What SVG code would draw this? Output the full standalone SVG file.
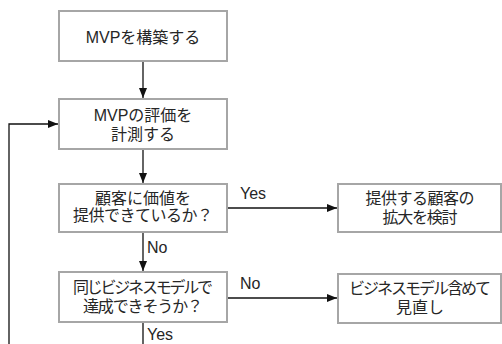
<svg xmlns="http://www.w3.org/2000/svg" width="502" height="344" viewBox="0 0 502 344">
<style>
.box{fill:#fff;stroke:#a6a6a6;stroke-width:2}
.t{font-family:"Liberation Sans","Noto Sans CJK JP",sans-serif;font-size:16px;fill:#262626;text-anchor:middle}
.l{font-family:"Liberation Sans","Noto Sans CJK JP",sans-serif;font-size:16px;fill:#262626}
.c{fill:none;stroke:#111;stroke-width:1.3}
</style>
<defs>
<marker id="ah" markerUnits="userSpaceOnUse" markerWidth="10" markerHeight="10" viewBox="0 0 10 10" refX="10" refY="5" orient="auto">
<path d="M0,1 L10,5 L0,9 Z" fill="#111"/>
</marker>
</defs>
<rect width="502" height="344" fill="#fff"/>
<g id="connectors">
<path class="c" d="M143,61 V98" marker-end="url(#ah)"/>
<path class="c" d="M143,149 V183" marker-end="url(#ah)"/>
<path class="c" d="M143,232 V271" marker-end="url(#ah)"/>
<path class="c" d="M227,208 H337" marker-end="url(#ah)"/>
<path class="c" d="M227,298 H337" marker-end="url(#ah)"/>
<path class="c" d="M143,322 V352 H9 V124 H58" marker-end="url(#ah)"/>
<text class="l" x="240" y="199">Yes</text>
<text class="l" x="147" y="253">No</text>
<text class="l" x="240" y="289">No</text>
<text class="l" x="147" y="340">Yes</text>
</g>
<g id="n1">
<rect class="box" x="59" y="11" width="168" height="50"/>
<text class="t" x="143" y="43">MVPを構築する</text>
</g>
<g id="n2">
<rect class="box" x="59" y="99" width="168" height="50"/>
<text class="t" x="143" y="121">MVPの評価を</text>
<text class="t" x="143" y="140">計測する</text>
</g>
<g id="n3">
<rect class="box" x="59" y="184" width="168" height="48"/>
<text class="t" x="143" y="203.5">顧客に価値を</text>
<text class="t" x="143" y="221" textLength="140" lengthAdjust="spacing">提供できているか？</text>
</g>
<g id="n4">
<rect class="box" x="59" y="272" width="168" height="50"/>
<text class="t" x="143" y="292.5" textLength="140" lengthAdjust="spacing">同じビジネスモデルで</text>
<text class="t" x="143" y="312" textLength="120" lengthAdjust="spacing">達成できそうか？</text>
</g>
<g id="n5">
<rect class="box" x="338" y="184" width="163" height="48"/>
<text class="t" x="420" y="204" textLength="109" lengthAdjust="spacing">提供する顧客の</text>
<text class="t" x="420" y="222.5" textLength="75" lengthAdjust="spacing">拡大を検討</text>
</g>
<g id="n6">
<rect class="box" x="338" y="274" width="163" height="49"/>
<text class="t" x="420" y="293.5" textLength="142" lengthAdjust="spacing">ビジネスモデル含めて</text>
<text class="t" x="420" y="312.5">見直し</text>
</g>
</svg>
